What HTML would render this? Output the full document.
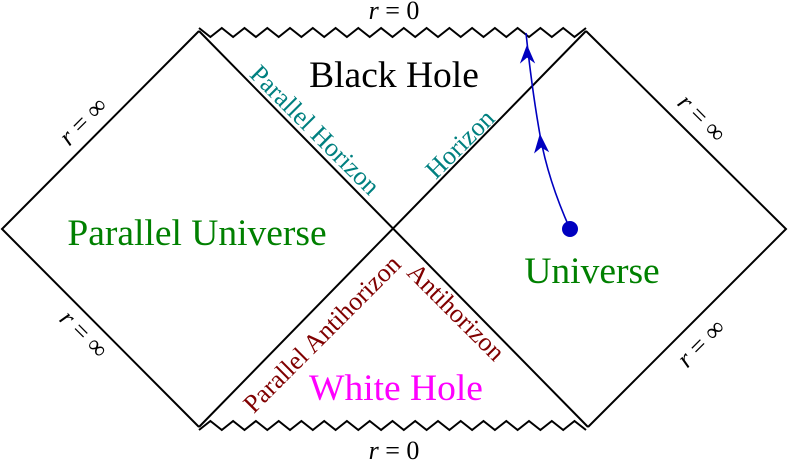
<!DOCTYPE html>
<html><head><meta charset="utf-8"><style>html,body{margin:0;padding:0;background:#fff}svg{display:block}</style></head>
<body>
<svg width="788" height="462" viewBox="0 0 788 462" xmlns="http://www.w3.org/2000/svg" font-family="Liberation Serif, serif">
<g stroke="#000" stroke-width="2" fill="none">
<polyline points="199,31 2,229 199,427"/>
<polyline points="586,31 786,229 588,427"/>
<line x1="199" y1="31" x2="588" y2="427"/>
<line x1="586" y1="31" x2="199" y2="427"/>
<polyline points="199,28 210.4,37 221.8,28 233.1,37 244.5,28 255.9,37 267.3,28 278.7,37 290,28 301.4,37 312.8,28 324.2,37 335.6,28 346.9,37 358.3,28 369.7,37 381.1,28 392.5,37 403.8,28 415.2,37 426.6,28 438,37 449.4,28 460.7,37 472.1,28 483.5,37 494.9,28 506.3,37 517.6,28 529,37 540.4,28 551.8,37 563.2,28 574.5,37 586,28"/>
<polyline points="199,430 210.4,421 221.8,430 233.1,421 244.5,430 255.9,421 267.3,430 278.7,421 290,430 301.4,421 312.8,430 324.2,421 335.6,430 346.9,421 358.3,430 369.7,421 381.1,430 392.5,421 403.8,430 415.2,421 426.6,430 438,421 449.4,430 460.7,421 472.1,430 483.5,421 494.9,430 506.3,421 517.6,430 529,421 540.4,430 551.8,421 563.2,430 574.5,421 586,430"/>
</g>
<path d="M570,229 Q548,180 540,135 T526,33" stroke="#0000c0" stroke-width="1.6" fill="none"/>
<path d="M527,46 L521,62 L527,57 L534,62 Z" fill="#0000c0" stroke="#0000c0" stroke-width="1"/>
<path d="M540,135 L535,152 L541,147 L548,151 Z" fill="#0000c0" stroke="#0000c0" stroke-width="1"/>
<circle cx="570" cy="229" r="8" fill="#0000c0"/>
<g font-size="26" text-anchor="middle">
<text x="394" y="19"><tspan font-style="italic">r</tspan> = 0</text>
<text x="394" y="459"><tspan font-style="italic">r</tspan> = 0</text>
<text transform="translate(89,127) rotate(-45)"><tspan font-style="italic">r</tspan> = ∞</text>
<text transform="translate(78,340) rotate(45)"><tspan font-style="italic">r</tspan> = ∞</text>
<text transform="translate(696,124) rotate(45)"><tspan font-style="italic">r</tspan> = ∞</text>
<text transform="translate(707,349) rotate(-45)"><tspan font-style="italic">r</tspan> = ∞</text>
</g>
<g font-size="37.5" text-anchor="middle">
<text x="394" y="87" fill="#000">Black Hole</text>
<text x="197" y="245" fill="#008000">Parallel Universe</text>
<text x="592" y="283" fill="#008000">Universe</text>
<text x="396" y="400" fill="#ff00ff">White Hole</text>
</g>
<g font-size="26" text-anchor="middle">
<text transform="translate(309,136) rotate(45)" fill="#008080">Parallel Horizon</text>
<text transform="translate(466,150) rotate(-45)" fill="#008080">Horizon</text>
<text transform="translate(328,340) rotate(-45)" fill="#800000">Parallel Antihorizon</text>
<text transform="translate(450,318) rotate(45)" fill="#800000">Antihorizon</text>
</g>
</svg>
</body></html>
